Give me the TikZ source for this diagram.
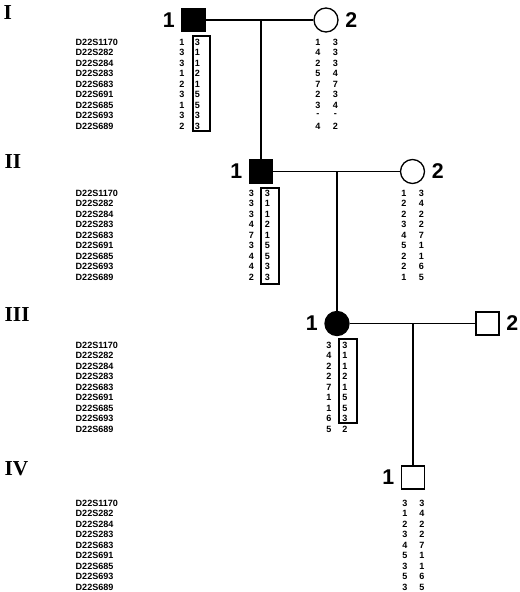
\documentclass[tikz,border=0pt]{standalone}
\usepackage{fontspec}
\setmainfont{Liberation Serif}
\setsansfont{Liberation Sans}
\usetikzlibrary{positioning}

\begin{document}
\begin{tikzpicture}[x=0.75pt,y=-0.75pt,line width=1pt,
  male/.style={draw,minimum size=17.25pt,inner sep=0pt},
  female/.style={draw,circle,minimum size=18pt,inner sep=0pt},
  aff/.style={fill=black},
  gen/.style={font=\bfseries\fontsize{16}{16}\selectfont,anchor=west,inner sep=0pt},
  idnum/.style={font=\sffamily\bfseries\fontsize{16}{16}\selectfont,inner sep=0pt,label distance=4.5pt},
  mk/.style={font=\sffamily\bfseries\fontsize{6.8}{6.8}\selectfont,anchor=west,inner sep=0pt},
  al/.style={font=\sffamily\bfseries\fontsize{6.8}{6.8}\selectfont,inner sep=0pt},
  hap/.style={draw,line width=0.8pt}]
\useasboundingbox (0,0) rectangle (520,592);
% generations
\node[gen] (gI) at (3,13) {I};
\node[gen] (gII) at (4,162) {II};
\node[gen] (gIII) at (4,315) {III};
\node[gen] (gIV) at (4,469) {IV};
% individuals
\node[male,aff,label={[idnum]left:1}] (i1) at (193.5,20) {};
\node[female,label={[idnum]right:2}] (i2) at (326,20) {};
\node[male,aff,label={[idnum]left:1}] (ii1) at (261,171.5) {};
\node[female,label={[idnum]right:2}] (ii2) at (412.5,171.5) {};
\node[female,aff,label={[idnum]left:1}] (iii1) at (337,323.5) {};
\node[male,label={[idnum]right:2}] (iii2) at (487.5,323.5) {};
\node[male,label={[idnum]left:1}] (iv1) at (413,477.5) {};
% matings and descent
\draw (i1) -- (i2);
\draw (ii1 |- i1) -- (ii1);
\draw (ii1) -- (ii2);
\draw (iii1 |- ii1) -- (iii1);
\draw (iii1) -- (iii2);
\draw (iv1 |- iii1) -- (iv1);
% marker names
\foreach \y in {42,193,345,503}
  \foreach \m [count=\k] in {D22S1170,D22S282,D22S284,D22S283,D22S683,D22S691,D22S685,D22S693,D22S689}
    \node[mk] at (75,\y+10.5*\k-10.5) {\m};
% haplotypes
\foreach \x/\y/\vals in {
    182/42/{1,3,3,1,2,3,1,3,2}, 197.5/42/{3,1,1,2,1,5,5,3,3},
    318/42/{1,4,2,5,7,2,3,-,4}, 335.5/42/{3,3,3,4,7,3,4,-,2},
    251.5/193/{3,3,3,4,7,3,4,4,2}, 267.5/193/{3,1,1,2,1,5,5,3,3},
    404/193/{1,2,2,3,4,5,2,2,1}, 421.5/193/{3,4,2,2,7,1,1,6,5},
    329/345/{3,4,2,2,7,1,1,6,5}, 345/345/{3,1,1,2,1,5,5,3,2},
    405/503/{3,1,2,3,4,5,3,5,3}, 422/503/{3,4,2,2,7,1,1,6,5}}
  \foreach \v [count=\k] in \vals
    \node[al] at (\x,\y+10.5*\k-10.5) {\v};
% disease haplotype
\draw[hap] (193,36) rectangle (210,131);
\draw[hap] (261,188) rectangle (279,284);
\draw[hap] (339,339) rectangle (357,423);
\end{tikzpicture}
\end{document}
